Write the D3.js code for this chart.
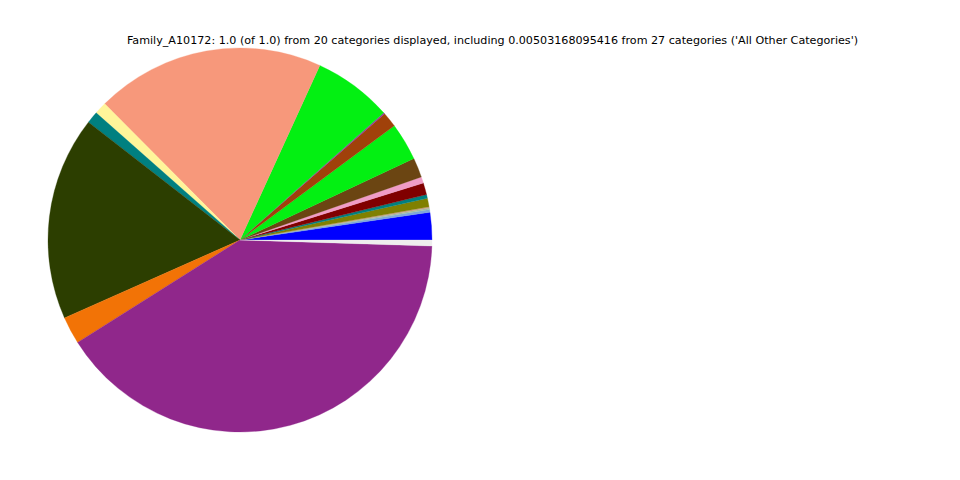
<!DOCTYPE html>
<html>
<head>
<meta charset="utf-8">
<script src="https://cdn.jsdelivr.net/npm/d3@7"></script>
<style>
  html, body { margin: 0; padding: 0; background: #ffffff; }
  svg { display: block; }
</style>
</head>
<body>
<div id="chart"></div>
<script>
// Data (counterclockwise from 3 o'clock, matplotlib order)
const categories = [
  "Category 01", "Category 02", "Category 03", "Category 04", "Category 05",
  "Category 06", "Category 07", "Category 08", "Category 09", "Category 10",
  "Category 11", "Category 12", "Category 13", "Category 14", "Category 15",
  "Category 16", "Category 17", "Category 18", "Category 19", "All Other Categories"
];
const values = [
  0.0231, 0.0022, 0.0014, 0.0010, 0.0072,
  0.0031, 0.0100, 0.0053, 0.0165, 0.0317,
  0.0128, 0.0011, 0.0664, 0.1928, 0.0103,
  0.0100, 0.1717, 0.0231, 0.4055, 0.00503168095416
];
const colors = [
  "#0000ff", "#7fa6dc", "#9fbfa8", "#c8a08c", "#808000",
  "#008080", "#800000", "#f09cc6", "#6b4512", "#03f012",
  "#a0410a", "#8e3aa0", "#03f012", "#f7987b", "#fff59a",
  "#008080", "#2c3e00", "#f27306", "#90278b", "#eeeeee"
];
const titleText = "Family_A10172: 1.0 (of 1.0) from 20 categories displayed, including 0.00503168095416 from 27 categories ('All Other Categories')";

const W = 960, H = 480;
const cx = 240, cy = 240, R = 192;

const svg = d3.select("#chart").append("svg")
  .attr("width", W).attr("height", H);

const data = categories.map((c, i) => ({ name: c, value: values[i], color: colors[i] }));

const pie = d3.pie()
  .value(d => d.value)
  .sort(null)
  .startAngle(Math.PI / 2)
  .endAngle(Math.PI / 2 - 2 * Math.PI);

const arc = d3.arc().innerRadius(0).outerRadius(R);

svg.append("g")
  .attr("transform", `translate(${cx},${cy})`)
  .selectAll("path")
  .data(pie(data))
  .join("path")
  .attr("d", arc)
  .attr("fill", d => d.data.color)
  .attr("stroke", d => d.data.color)
  .attr("stroke-width", 0.3);

svg.append("text")
  .attr("x", 492.5)
  .attr("y", 44)
  .attr("text-anchor", "middle")
  .attr("font-family", "DejaVu Sans, sans-serif")
  .attr("font-size", 11.15)
  .attr("fill", "#000")
  .text(titleText);
</script>
</body>
</html>
